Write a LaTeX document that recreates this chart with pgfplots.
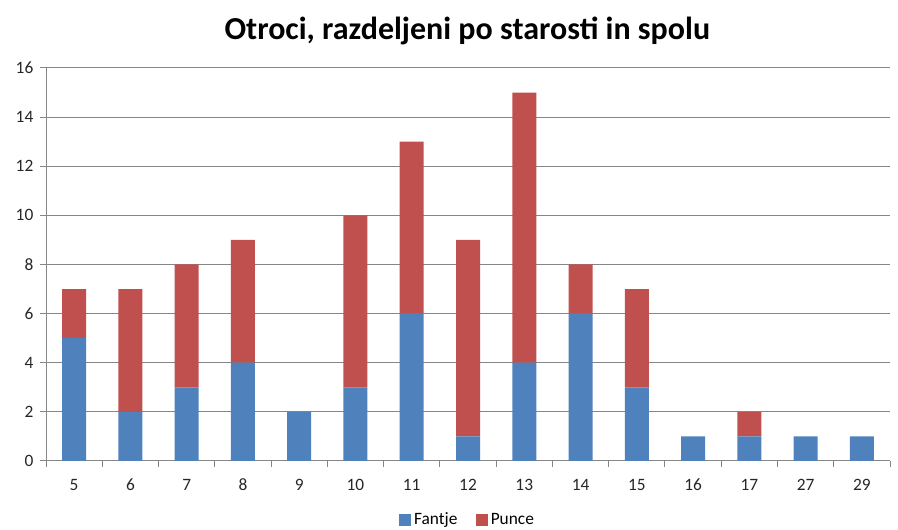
\documentclass[border=0pt]{standalone}
\usepackage{pgfplots}
\pgfplotsset{compat=1.18}
\usepackage{fontspec}
\setmainfont{Carlito}
\definecolor{fblue}{HTML}{4F81BD}
\definecolor{pred}{HTML}{C0504D}
\definecolor{gridc}{HTML}{868686}
\begin{document}
\begin{tikzpicture}
\path[use as bounding box] (0,0) rectangle (673.5pt,397.5pt);
\begin{axis}[
  at={(34.5pt,51.75pt)}, anchor=south west,
  scale only axis, width=633pt, height=294.75pt,
  ybar stacked, bar width=18pt,
  xmin=-0.5, xmax=14.5, ymin=0, ymax=16,
  ytick={0,2,...,16},
  xtick={-0.5,0.5,...,14.5},
  x tick label as interval,
  xticklabels={5,6,7,8,9,10,11,12,13,14,15,16,17,27,29},
  tick align=outside,
  major tick length=4.5pt,
  ymajorgrids, grid style={draw=gridc, line width=0.75pt},
  axis x line*=bottom, axis y line*=left,
  axis line style={draw=gridc, line width=0.75pt, -},
  tick style={draw=gridc, line width=0.75pt},
  tick label style={font=\fontsize{13}{15}\selectfont, text=black!85},
  /pgf/number format/assume math mode=true,
  xticklabel style={anchor=north, text height=9pt, text depth=0pt, yshift=-5pt},
  yticklabel style={xshift=-1.5pt},
  title={\textbf{Otroci, razdeljeni po starosti in spolu}},
  title style={font=\fontsize{24}{28}\selectfont, at={(0.5,1)}, anchor=south, yshift=8pt, xshift=-0.5pt},
  legend style={draw=none, at={(0.5,-0.118)}, anchor=north, legend columns=-1,
    font=\fontsize{13}{15}\selectfont, /tikz/every even column/.append style={column sep=12pt}},
  legend image code/.code={\fill[#1] (0pt,-4.5pt) rectangle (9pt,4.5pt);},
  legend cell align=left,
]
\addplot[fill=fblue, draw=none] coordinates {(0,5) (1,2) (2,3) (3,4) (4,2) (5,3) (6,6) (7,1) (8,4) (9,6) (10,3) (11,1) (12,1) (13,1) (14,1)};
\addplot[fill=pred, draw=none] coordinates {(0,2) (1,5) (2,5) (3,5) (4,0) (5,7) (6,7) (7,8) (8,11) (9,2) (10,4) (11,0) (12,1) (13,0) (14,0)};
\legend{Fantje, Punce}
\end{axis}
\end{tikzpicture}
\end{document}
